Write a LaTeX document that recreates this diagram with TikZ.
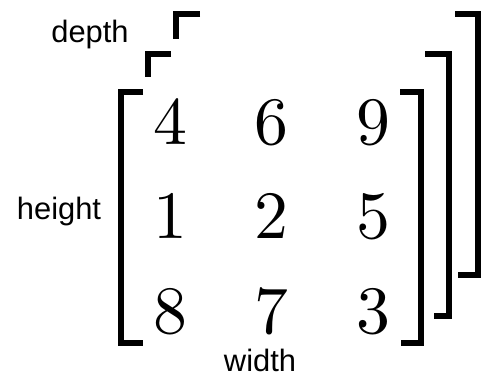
\documentclass[tikz,border=0pt]{standalone}
\usepackage{fontspec}
\newfontfamily\labelfont{Liberation Sans}
\newfontfamily\digitfont[Extension=.otf]{lmroman10-regular}
\begin{document}
\begin{tikzpicture}[x=1bp,y=-1bp,
    bracket/.style={line width=6bp,line join=miter},
    entry/.style={anchor=base,inner sep=0pt,font=\digitfont\fontsize{68}{68}\selectfont},
    dimlabel/.style={anchor=base,inner sep=0pt,font=\labelfont\fontsize{31}{31}\selectfont}]
  \useasboundingbox (0,0) rectangle (481,375);

  % back slice
  \draw[bracket] (200,14) -- (176,14) -- (176,39);
  \draw[bracket] (455,14) -- (478,14) -- (478,274.5) -- (458,274.5);

  % middle slice
  \draw[bracket] (171,54) -- (147.5,54) -- (147.5,77);
  \draw[bracket] (425,54) -- (448.5,54) -- (448.5,315.5) -- (434,315.5);

  % front slice
  \draw[bracket] (143,92) -- (121,92) -- (121,343) -- (143,343);
  \draw[bracket] (400,92) -- (421,92) -- (421,343) -- (401,343);

  % entries of the front slice
  \foreach \a/\b/\c [count=\r] in {4/6/9,1/2/5,8/7/3} {
    \node[entry] (e\r1) at (170,{49.5+94.5*\r}) {\a};
    \node[entry] (e\r2) at (271,{49.5+94.5*\r}) {\b};
    \node[entry] (e\r3) at (373,{49.5+94.5*\r}) {\c};
  }

  % dimensions
  \node[dimlabel] (depth) at (90,42) {depth};
  \node[dimlabel] (height) at (59,219) {height};
  \node[dimlabel] (width) at (260,371) {width};
\end{tikzpicture}
\end{document}
